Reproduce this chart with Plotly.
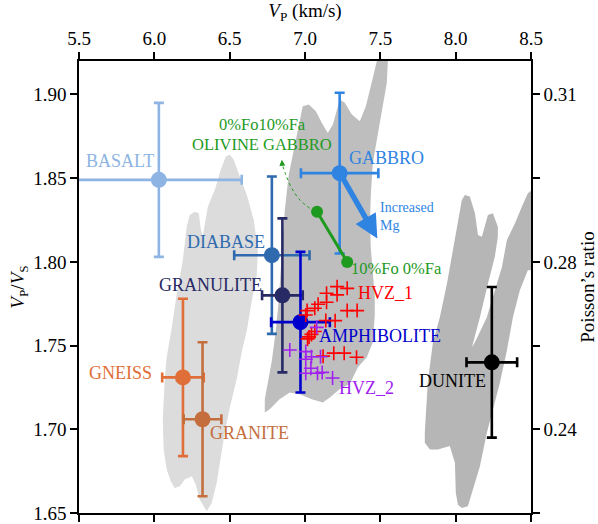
import plotly.graph_objects as go

# ---------------- data ----------------
rocks = ["BASALT", "DIABASE", "GRANULITE", "AMPHIBOLITE", "GABBRO", "GNEISS", "GRANITE", "DUNITE"]
vp = [6.03, 6.78, 6.85, 6.97, 7.23, 6.19, 6.32, 8.24]
vpvs = [1.849, 1.804, 1.780, 1.764, 1.853, 1.731, 1.706, 1.740]
vp_err = [0.55, 0.25, 0.135, 0.195, 0.257, 0.138, 0.125, 0.168]
vpvs_err = [0.046, 0.047, 0.046, 0.042, 0.048, 0.047, 0.046, 0.045]
rock_colors = ["#8db4e2", "#2e6aad", "#272a64", "#0000cd", "#2f84e2", "#e06e38", "#c46e3e", "#000000"]
label_x = [5.770, 6.474, 6.376, 7.497, 7.543, 5.778, 6.630, 7.981]
label_y = [1.860, 1.812, 1.786, 1.756, 1.862, 1.7335, 1.698, 1.729]

ol_vp = [7.08, 7.28]
ol_vpvs = [1.830, 1.800]
ol_curve_x = [7.032, 6.966, 6.912, 6.873, 6.850]
ol_curve_y = [1.832, 1.837, 1.844, 1.852, 1.858]

hvz1_vp = [7.213, 7.280, 7.143, 7.213, 7.143, 7.087, 7.065, 7.014, 7.005, 7.280, 7.346,
           7.138, 7.200, 7.065, 7.043, 7.027, 7.017, 7.120, 7.191, 7.260, 7.342]
hvz1_vpvs = [1.7852, 1.7842, 1.7813, 1.7803, 1.7759, 1.7747, 1.7723, 1.7709, 1.7683, 1.7709, 1.7709,
             1.7650, 1.7649, 1.7584, 1.7567, 1.7552, 1.7540, 1.7437, 1.7455, 1.7455, 1.7430]
hvz2_vp = [6.899, 7.005, 7.005, 7.043, 7.103, 7.039, 7.005, 7.083, 7.114, 7.183, 7.078]
hvz2_vpvs = [1.7474, 1.7464, 1.7418, 1.7433, 1.7433, 1.7365, 1.7335, 1.7335, 1.7340, 1.7306, 1.7609]

# outlines of the grey fields
light_x = [6.268, 6.295, 6.308, 6.321, 6.355, 6.401, 6.441, 6.474, 6.501, 6.527, 6.567, 6.614, 6.660, 6.687,
           6.680, 6.647, 6.614, 6.580, 6.547, 6.501, 6.467, 6.441, 6.414, 6.381, 6.348, 6.301, 6.275, 6.248,
           6.202, 6.169, 6.135, 6.109, 6.082, 6.062, 6.056, 6.069, 6.082, 6.116, 6.149, 6.189, 6.215, 6.235]
light_y = [1.830, 1.829, 1.820, 1.815, 1.833, 1.843, 1.855, 1.863, 1.864, 1.861, 1.851, 1.840, 1.825, 1.807,
           1.792, 1.777, 1.759, 1.746, 1.730, 1.713, 1.698, 1.682, 1.668, 1.656, 1.651, 1.658, 1.667, 1.672,
           1.670, 1.666, 1.665, 1.669, 1.676, 1.688, 1.706, 1.730, 1.743, 1.761, 1.781, 1.801, 1.821, 1.828]

mid_x = [7.477, 7.550, 7.543, 7.517, 7.483, 7.450, 7.437, 7.431, 7.437, 7.450, 7.463, 7.463, 7.450, 7.410,
         7.351, 7.297, 7.231, 7.165, 7.118, 7.045, 6.966, 6.899, 6.831, 6.766, 6.733, 6.733, 6.753, 6.780,
         6.806, 6.826, 6.839, 6.853, 6.866, 6.892, 6.912, 6.952, 6.985, 7.025, 7.072, 7.112, 7.151, 7.185,
         7.211, 7.231, 7.264, 7.311, 7.364, 7.404, 7.437, 7.463]
mid_y = [1.920, 1.920, 1.907, 1.893, 1.877, 1.859, 1.840, 1.824, 1.808, 1.794, 1.780, 1.768, 1.752, 1.743,
         1.737, 1.727, 1.724, 1.719, 1.716, 1.718, 1.721, 1.722, 1.718, 1.712, 1.710, 1.718, 1.727, 1.741,
         1.759, 1.777, 1.795, 1.813, 1.831, 1.852, 1.861, 1.879, 1.893, 1.894, 1.890, 1.883, 1.877, 1.882,
         1.891, 1.897, 1.895, 1.888, 1.884, 1.893, 1.905, 1.915]

dun_x = [8.061, 8.094, 8.128, 8.148, 8.174, 8.214, 8.247, 8.280, 8.280, 8.260, 8.214, 8.161, 8.108, 8.128,
         8.207, 8.260, 8.307, 8.340, 8.393, 8.439, 8.479, 8.506, 8.506, 8.479, 8.426, 8.380, 8.340, 8.294,
         8.247, 8.207, 8.161, 8.114, 8.081, 8.041, 8.015, 8.001, 7.995, 7.961, 7.882, 7.829, 7.795, 7.795,
         7.809, 7.815, 7.849, 7.895, 7.942, 7.982, 8.015, 8.041]
dun_y = [1.840, 1.839, 1.829, 1.816, 1.815, 1.828, 1.829, 1.821, 1.815, 1.803, 1.787, 1.767, 1.749, 1.752,
         1.767, 1.783, 1.797, 1.813, 1.823, 1.833, 1.841, 1.843, 1.795, 1.795, 1.783, 1.767, 1.747, 1.728,
         1.712, 1.698, 1.678, 1.664, 1.654, 1.653, 1.655, 1.662, 1.680, 1.690, 1.688, 1.688, 1.692, 1.698,
         1.718, 1.728, 1.752, 1.767, 1.787, 1.807, 1.823, 1.837]

yticks = [1.65, 1.70, 1.75, 1.80, 1.85, 1.90]
poisson_text = ["", "0.24", "", "0.28", "", "0.31"]
xticks = [5.5, 6.0, 6.5, 7.0, 7.5, 8.0, 8.5]

FONT = "Liberation Serif, DejaVu Serif, Noto Serif, serif"
GREEN = "#1e9a1e"

fig = go.Figure()

# grey fields
for xs, ys, col in [(light_x, light_y, "#dcdcdc"), (mid_x, mid_y, "#bebebe"), (dun_x, dun_y, "#b6b6b6")]:
    fig.add_trace(go.Scatter(x=xs + xs[:1], y=ys + ys[:1], mode="lines", fill="toself",
                             fillcolor=col, line=dict(width=0, color=col), hoverinfo="skip",
                             showlegend=False))

# rock means with error bars
for i, name in enumerate(rocks):
    c = rock_colors[i]
    fig.add_trace(go.Scatter(
        x=[vp[i]], y=[vpvs[i]], mode="markers", name=name, showlegend=False,
        marker=dict(size=16, color=c),
        error_x=dict(type="data", array=[vp_err[i]], color=c, thickness=2.6, width=5),
        error_y=dict(type="data", array=[vpvs_err[i]], color=c, thickness=2.6, width=5),
    ))

# olivine gabbro
fig.add_trace(go.Scatter(x=ol_curve_x, y=ol_curve_y, mode="lines", showlegend=False,
                         line=dict(color=GREEN, width=1, dash="dot", shape="spline")))
fig.add_trace(go.Scatter(x=ol_vp, y=ol_vpvs, mode="lines+markers", showlegend=False,
                         line=dict(color=GREEN, width=3), marker=dict(size=12, color=GREEN)))

# HVZ
fig.add_trace(go.Scatter(x=hvz1_vp, y=hvz1_vpvs, mode="markers", showlegend=False,
                         marker=dict(symbol="cross-thin", size=10, line=dict(color="#ff0000", width=1.6))))
fig.add_trace(go.Scatter(x=hvz2_vp, y=hvz2_vpvs, mode="markers", showlegend=False,
                         marker=dict(symbol="cross-thin", size=10, line=dict(color="#a020f0", width=1.6))))

# invisible trace for right axis
fig.add_trace(go.Scatter(x=[vp[0]], y=[vpvs[0]], yaxis="y2", mode="markers",
                         marker=dict(opacity=0), showlegend=False, hoverinfo="skip"))

annotations = []
for i, name in enumerate(rocks):
    annotations.append(dict(x=label_x[i], y=label_y[i], text=name, showarrow=False,
                            font=dict(family=FONT, size=18, color=rock_colors[i])))
annotations += [
    dict(x=6.720, y=1.882, text="0%Fo10%Fa", showarrow=False, font=dict(family=FONT, size=16.5, color=GREEN)),
    dict(x=6.717, y=1.870, text="OLIVINE GABBRO", showarrow=False, font=dict(family=FONT, size=16.5, color=GREEN)),
    dict(x=7.610, y=1.796, text="10%Fo 0%Fa", showarrow=False, font=dict(family=FONT, size=16.5, color=GREEN)),
    dict(x=7.537, y=1.7816, text="HVZ_1", showarrow=False, font=dict(family=FONT, size=18, color="#ff0000")),
    dict(x=7.408, y=1.7246, text="HVZ_2", showarrow=False, font=dict(family=FONT, size=18, color="#a020f0")),
    dict(x=7.485, y=1.827, text="Increased<br>Mg", showarrow=False, xanchor="left", align="left",
         font=dict(family=FONT, size=14, color="#2f84e2")),
    # big arrow
    dict(x=7.480, y=1.814, ax=7.245, ay=1.851, axref="x", ayref="y", xref="x", yref="y", text="",
         showarrow=True, arrowhead=2, arrowsize=0.85, arrowwidth=5.5, arrowcolor="#2f84e2"),
    # small dotted arrow head
    dict(x=6.846, y=1.861, ax=6.850, ay=1.857, axref="x", ayref="y", xref="x", yref="y", text="",
         showarrow=True, arrowhead=2, arrowsize=1.2, arrowwidth=1, arrowcolor=GREEN),
]

axis_font = dict(family=FONT, size=19, color="black")
fig.update_layout(
    width=598, height=524,
    margin=dict(l=79, r=67, t=61, b=11),
    paper_bgcolor="white", plot_bgcolor="white",
    font=dict(family=FONT, size=19, color="black"),
    xaxis=dict(range=[5.5, 8.5], side="top", tickvals=xticks, ticktext=[f"{v:.1f}" for v in xticks],
               showline=True, linecolor="black", linewidth=1.5, mirror="ticks", ticks="outside",
               ticklen=7, tickwidth=1.5, tickcolor="black", showgrid=False, zeroline=False,
               tickfont=axis_font, automargin=False,
               title=dict(text="<i>V</i><sub>P</sub> (km/s)", font=axis_font, standoff=8)),
    yaxis=dict(range=[1.65, 1.92], tickvals=yticks, ticktext=[f"{v:.2f}" for v in yticks],
               showline=True, linecolor="black", linewidth=1.5, ticks="outside", ticklen=7,
               tickwidth=1.5, tickcolor="black", showgrid=False, zeroline=False, tickfont=axis_font,
               automargin=False,
               title=dict(text="<i>V</i><sub>P</sub>/<i>V</i><sub>S</sub>", font=axis_font, standoff=4)),
    yaxis2=dict(range=[1.65, 1.92], overlaying="y", side="right", tickvals=yticks, ticktext=poisson_text,
                showline=True, linecolor="black", linewidth=1.5, ticks="outside", ticklen=7,
                tickwidth=1.5, tickcolor="black", showgrid=False, zeroline=False, tickfont=axis_font,
                automargin=False,
                title=dict(text="Poisson\u2019s ratio", font=axis_font, standoff=2)),
    annotations=annotations,
)

fig.write_html("out.html")
